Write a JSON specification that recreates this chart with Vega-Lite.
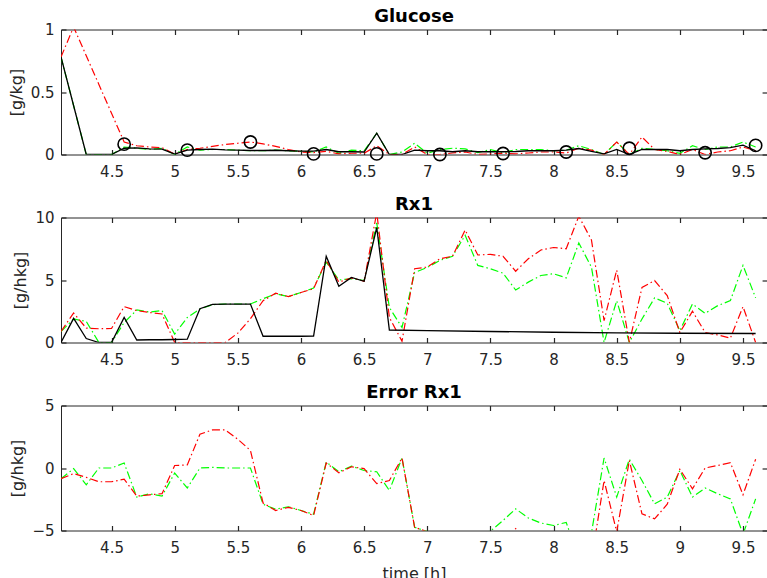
{
  "$schema": "https://vega.github.io/schema/vega-lite/v6.json",
  "padding": {"left": 7, "top": 6.5, "right": 0, "bottom": 0},
  "background": "white",
  "datasets": {
    "glu": [
      {"t":4.1,"k":0.78,"r":0.78,"g":0.78},{"t":4.2,"k":0.39,"r":1.02,"g":0.39},{"t":4.3,"k":0,"r":0.79,"g":0},{"t":4.4,"k":0,"r":0.56,"g":0},{"t":4.5,"k":0,"r":0.33,"g":0},
      {"t":4.6,"k":0.05,"r":0.1,"g":0.06},{"t":4.7,"k":0.053,"r":0.07,"g":0.05},{"t":4.8,"k":0.045,"r":0.06,"g":0.04},{"t":4.9,"k":0.043,"r":0.055,"g":0.05},{"t":5.0,"k":0.003,"r":0.003,"g":0},
      {"t":5.1,"k":0.035,"r":0.04,"g":0.06},{"t":5.2,"k":0.04,"r":0.05,"g":0.035},{"t":5.3,"k":0.043,"r":0.065,"g":0.04},{"t":5.4,"k":0.037,"r":0.08,"g":0.04},{"t":5.5,"k":0.035,"r":0.09,"g":0.035},
      {"t":5.6,"k":0.032,"r":0.1,"g":0.03},{"t":5.7,"k":0.032,"r":0.085,"g":0.03},{"t":5.8,"k":0.034,"r":0.065,"g":0.035},{"t":5.9,"k":0.03,"r":0.04,"g":0.03},{"t":6.0,"k":0.027,"r":0.02,"g":0.025},
      {"t":6.1,"k":0.027,"r":0.015,"g":0.02},{"t":6.2,"k":0.04,"r":0.025,"g":0.06},{"t":6.3,"k":0.022,"r":0.005,"g":0.01},{"t":6.4,"k":0.022,"r":0.01,"g":0.035},{"t":6.5,"k":0.02,"r":0.01,"g":0.03},
      {"t":6.6,"k":0.17,"r":0.07,"g":0.17},{"t":6.7,"k":0,"r":0,"g":0},{"t":6.8,"k":0,"r":0,"g":0.02},{"t":6.9,"k":0.035,"r":0.06,"g":0.09},{"t":7.0,"k":0.03,"r":0,"g":0.01},
      {"t":7.1,"k":0.03,"r":0,"g":0.04},{"t":7.2,"k":0.022,"r":0.012,"g":0.05},{"t":7.3,"k":0.03,"r":0.02,"g":0.045},{"t":7.4,"k":0.022,"r":0,"g":0.015},{"t":7.5,"k":0.022,"r":0.005,"g":0.04},
      {"t":7.6,"k":0.022,"r":0.01,"g":0.015},{"t":7.7,"k":0.024,"r":0.005,"g":0.04},{"t":7.8,"k":0.03,"r":0.012,"g":0.04},{"t":7.9,"k":0.03,"r":0.02,"g":0.04},{"t":8.0,"k":0.03,"r":0.02,"g":0.03},
      {"t":8.1,"k":0.035,"r":0.012,"g":0.035},{"t":8.2,"k":0.048,"r":0.05,"g":0.07},{"t":8.3,"k":0.025,"r":0.035,"g":0.04},{"t":8.4,"k":0.005,"r":0,"g":0},{"t":8.5,"k":0.04,"r":0.1,"g":0.1},
      {"t":8.6,"k":0,"r":0,"g":0},{"t":8.7,"k":0.04,"r":0.14,"g":0.05},{"t":8.8,"k":0.04,"r":0.04,"g":0.04},{"t":8.9,"k":0.04,"r":0.025,"g":0.03},{"t":9.0,"k":0.03,"r":0,"g":0.01},
      {"t":9.1,"k":0.04,"r":0.04,"g":0.07},{"t":9.2,"k":0.045,"r":0,"g":0.04},{"t":9.3,"k":0.048,"r":0.02,"g":0.06},{"t":9.4,"k":0.055,"r":0.03,"g":0.06},{"t":9.5,"k":0.075,"r":0.06,"g":0.1},
      {"t":9.6,"k":0.03,"r":0.03,"g":0.06}
    ],
    "meas": [
      {"t":4.6,"v":0.083},{"t":5.1,"v":0.035},{"t":5.6,"v":0.1},{"t":6.1,"v":0.005},{"t":6.6,"v":0.005},{"t":7.1,"v":0.0},
      {"t":7.6,"v":0.008},{"t":8.1,"v":0.02},{"t":8.6,"v":0.05},{"t":9.2,"v":0.014},{"t":9.6,"v":0.073}
    ],
    "rx": [
      {"t":4.1,"k":0,"r":0.88,"g":0.88},{"t":4.2,"k":1.93,"r":2.36,"g":1.88},{"t":4.3,"k":0.32,"r":1.15,"g":1.69},{"t":4.4,"k":0,"r":1.1,"g":0},{"t":4.5,"k":0,"r":1.12,"g":0},
      {"t":4.6,"k":2.0,"r":2.87,"g":1.6},{"t":4.7,"k":0.2,"r":2.55,"g":2.6},{"t":4.8,"k":0.22,"r":2.4,"g":2.44},{"t":4.9,"k":0.22,"r":2.28,"g":2.55},{"t":5.0,"k":0.24,"r":0,"g":0.67},
      {"t":5.1,"k":0.27,"r":0,"g":2.0},{"t":5.2,"k":2.7,"r":0,"g":2.68},{"t":5.3,"k":3.05,"r":0,"g":3.03},{"t":5.4,"k":3.07,"r":0,"g":3.08},{"t":5.5,"k":3.07,"r":0.75,"g":3.08},
      {"t":5.6,"k":3.07,"r":1.9,"g":3.08},{"t":5.7,"k":0.5,"r":3.35,"g":3.5},{"t":5.8,"k":0.5,"r":3.94,"g":3.9},{"t":5.9,"k":0.5,"r":3.67,"g":3.67},{"t":6.0,"k":0.5,"r":4.0,"g":4.0},
      {"t":6.1,"k":0.52,"r":4.3,"g":4.35},{"t":6.2,"k":6.9,"r":6.57,"g":6.43},{"t":6.3,"k":4.5,"r":4.83,"g":5.0},{"t":6.4,"k":5.2,"r":5.17,"g":5.1},{"t":6.5,"k":4.9,"r":4.9,"g":4.96},
      {"t":6.6,"k":9.2,"r":10.4,"g":9.57},{"t":6.7,"k":1.0,"r":2.0,"g":2.8},{"t":6.8,"k":null,"r":0.1,"g":1.2},{"t":6.9,"k":null,"r":5.9,"g":5.6},{"t":7.0,"k":0.95,"r":6.03,"g":6.0},
      {"t":7.1,"k":null,"r":6.7,"g":6.57},{"t":7.2,"k":null,"r":6.9,"g":6.9},{"t":7.3,"k":null,"r":9.0,"g":8.58},{"t":7.4,"k":null,"r":7.0,"g":6.17},{"t":7.5,"k":0.88,"r":7.05,"g":5.9},
      {"t":7.6,"k":null,"r":6.9,"g":5.55},{"t":7.7,"k":null,"r":5.7,"g":4.2},{"t":7.8,"k":null,"r":6.7,"g":4.83},{"t":7.9,"k":null,"r":7.4,"g":5.36},{"t":8.0,"k":0.82,"r":7.6,"g":5.5},
      {"t":8.1,"k":null,"r":7.5,"g":5.17},{"t":8.2,"k":null,"r":10.1,"g":7.96},{"t":8.3,"k":null,"r":8.2,"g":6.03},{"t":8.4,"k":null,"r":1.75,"g":0},{"t":8.5,"k":0.77,"r":5.8,"g":3.35},
      {"t":8.6,"k":null,"r":0,"g":0},{"t":8.7,"k":null,"r":4.4,"g":1.88},{"t":8.8,"k":null,"r":4.96,"g":3.57},{"t":8.9,"k":null,"r":3.75,"g":3.14},{"t":9.0,"k":0.74,"r":0.8,"g":0.94},
      {"t":9.1,"k":null,"r":2.5,"g":3.08},{"t":9.2,"k":null,"r":0.8,"g":2.33},{"t":9.3,"k":null,"r":0.6,"g":2.95},{"t":9.4,"k":null,"r":0.35,"g":3.35},{"t":9.5,"k":null,"r":2.87,"g":6.17},
      {"t":9.6,"k":0.72,"r":0,"g":3.57}
    ],
    "err": [
      {"t":4.1,"r":-0.86,"g":-0.86},{"t":4.2,"r":-0.45,"g":-0.05},{"t":4.3,"r":-0.75,"g":-1.34},{"t":4.4,"r":-1.1,"g":0},{"t":4.5,"r":-1.1,"g":0},
      {"t":4.6,"r":-0.9,"g":0.4},{"t":4.7,"r":-2.25,"g":-2.33},{"t":4.8,"r":-2.15,"g":-2.06},{"t":4.9,"r":-2.05,"g":-2.25},{"t":5.0,"r":0.2,"g":-0.4},
      {"t":5.1,"r":0.25,"g":-1.6},{"t":5.2,"r":2.7,"g":0},{"t":5.3,"r":3.05,"g":0.05},{"t":5.4,"r":3.05,"g":0},{"t":5.5,"r":2.3,"g":0},
      {"t":5.6,"r":1.4,"g":0},{"t":5.7,"r":-2.8,"g":-2.9},{"t":5.8,"r":-3.4,"g":-3.3},{"t":5.9,"r":-3.15,"g":-3.1},{"t":6.0,"r":-3.4,"g":-3.4},
      {"t":6.1,"r":-3.8,"g":-3.7},{"t":6.2,"r":0.4,"g":0.48},{"t":6.3,"r":-0.38,"g":-0.3},{"t":6.4,"r":0.1,"g":0.15},{"t":6.5,"r":-0.05,"g":-0.2},
      {"t":6.6,"r":-1.25,"g":-0.3},{"t":6.7,"r":-1.0,"g":-1.8},{"t":6.8,"r":0.8,"g":0.8},{"t":6.9,"r":-4.75,"g":-4.75},{"t":7.0,"r":-5.1,"g":-5.07},
      {"t":7.1,"r":-5.8,"g":-5.6},{"t":7.2,"r":-6.0,"g":-6.0},{"t":7.3,"r":-8.1,"g":-7.7},{"t":7.4,"r":-6.1,"g":-5.3},{"t":7.5,"r":-6.2,"g":-5.05},
      {"t":7.6,"r":-6.0,"g":-4.2},{"t":7.7,"r":-4.85,"g":-3.27},{"t":7.8,"r":-5.85,"g":-4.0},{"t":7.9,"r":-6.6,"g":-4.4},{"t":8.0,"r":-6.8,"g":-4.6},
      {"t":8.1,"r":-6.7,"g":-4.35},{"t":8.2,"r":-9.2,"g":-7.2},{"t":8.3,"r":-7.4,"g":-5.2},{"t":8.4,"r":-1.0,"g":0.8},{"t":8.5,"r":-5.1,"g":-2.33},
      {"t":8.6,"r":0.6,"g":0.7},{"t":8.7,"r":-3.67,"g":-1.0},{"t":8.8,"r":-4.07,"g":-2.87},{"t":8.9,"r":-2.9,"g":-2.33},{"t":9.0,"r":-0.1,"g":-0.2},
      {"t":9.1,"r":-1.66,"g":-2.33},{"t":9.2,"r":0,"g":-1.6},{"t":9.3,"r":0.2,"g":-2.06},{"t":9.4,"r":0.43,"g":-2.47},{"t":9.5,"r":-2.14,"g":-5.3},
      {"t":9.6,"r":0.7,"g":-2.47}
    ]
  },
  "vconcat": [
    {
      "title": "Glucose",
      "width": 706, "height": 125,
      "data": {"name": "glu"},
      "resolve": {"axis": {"x": "independent", "y": "independent"}},
      "layer": [
        {
          "mark": {"type": "line", "color": "#00ff00", "strokeWidth": 1.2, "strokeDash": [8,3,1.5,3], "clip": true},
          "encoding": {
            "x": {"field": "t", "type": "quantitative", "scale": {"domain": [4.1, 9.69], "nice": false, "zero": false},
                  "axis": {"orient": "bottom", "values": [4.5,5,5.5,6,6.5,7,7.5,8,8.5,9,9.5], "format": "~r", "title": null}},
            "y": {"field": "g", "type": "quantitative", "scale": {"domain": [0, 1], "nice": false},
                  "axis": {"orient": "left", "values": [0,0.5,1], "format": "~r", "title": "[g/kg]"}}
          }
        },
        {
          "mark": {"type": "line", "color": "#ff0000", "strokeWidth": 1.2, "strokeDash": [8,3,1.5,3], "clip": true},
          "encoding": {
            "x": {"field": "t", "type": "quantitative", "axis": {"orient": "top", "values": [4.5,5,5.5,6,6.5,7,7.5,8,8.5,9,9.5], "labels": false, "title": null}},
            "y": {"field": "r", "type": "quantitative", "axis": {"orient": "right", "values": [0,0.5,1], "labels": false, "title": null}}
          }
        },
        {
          "mark": {"type": "line", "color": "black", "strokeWidth": 1.3, "clip": true},
          "encoding": {"x": {"field": "t", "type": "quantitative", "axis": null}, "y": {"field": "k", "type": "quantitative", "axis": null}}
        },
        {
          "data": {"name": "meas"},
          "mark": {"type": "point", "shape": "circle", "filled": false, "color": "black", "strokeWidth": 1.6, "size": 150, "opacity": 1},
          "encoding": {"x": {"field": "t", "type": "quantitative", "axis": null}, "y": {"field": "v", "type": "quantitative", "axis": null}}
        }
      ]
    },
    {
      "title": "Rx1",
      "width": 706, "height": 125,
      "data": {"name": "rx"},
      "resolve": {"axis": {"x": "independent", "y": "independent"}},
      "layer": [
        {
          "mark": {"type": "line", "color": "#00ff00", "strokeWidth": 1.2, "strokeDash": [8,3,1.5,3], "clip": true},
          "encoding": {
            "x": {"field": "t", "type": "quantitative", "scale": {"domain": [4.1, 9.69], "nice": false, "zero": false},
                  "axis": {"orient": "bottom", "values": [4.5,5,5.5,6,6.5,7,7.5,8,8.5,9,9.5], "format": "~r", "title": null}},
            "y": {"field": "g", "type": "quantitative", "scale": {"domain": [0, 10], "nice": false},
                  "axis": {"orient": "left", "values": [0,5,10], "format": "~r", "title": "[g/hkg]"}}
          }
        },
        {
          "mark": {"type": "line", "color": "#ff0000", "strokeWidth": 1.2, "strokeDash": [8,3,1.5,3], "clip": true},
          "encoding": {
            "x": {"field": "t", "type": "quantitative", "axis": {"orient": "top", "values": [4.5,5,5.5,6,6.5,7,7.5,8,8.5,9,9.5], "labels": false, "title": null}},
            "y": {"field": "r", "type": "quantitative", "axis": {"orient": "right", "values": [0,5,10], "labels": false, "title": null}}
          }
        },
        {
          "transform": [{"filter": "isValid(datum.k)"}],
          "mark": {"type": "line", "color": "black", "strokeWidth": 1.3, "clip": true},
          "encoding": {"x": {"field": "t", "type": "quantitative", "axis": null}, "y": {"field": "k", "type": "quantitative", "axis": null}}
        }
      ]
    },
    {
      "title": "Error Rx1",
      "width": 706, "height": 125,
      "data": {"name": "err"},
      "resolve": {"axis": {"x": "independent", "y": "independent"}},
      "layer": [
        {
          "mark": {"type": "line", "color": "#00ff00", "strokeWidth": 1.2, "strokeDash": [8,3,1.5,3], "clip": true},
          "encoding": {
            "x": {"field": "t", "type": "quantitative", "scale": {"domain": [4.1, 9.69], "nice": false, "zero": false},
                  "axis": {"orient": "bottom", "values": [4.5,5,5.5,6,6.5,7,7.5,8,8.5,9,9.5], "format": "~r", "title": "time [h]", "titlePadding": 10}},
            "y": {"field": "g", "type": "quantitative", "scale": {"domain": [-5, 5], "nice": false},
                  "axis": {"orient": "left", "values": [-5,0,5], "format": "~r", "title": "[g/hkg]"}}
          }
        },
        {
          "mark": {"type": "line", "color": "#ff0000", "strokeWidth": 1.2, "strokeDash": [8,3,1.5,3], "clip": true},
          "encoding": {
            "x": {"field": "t", "type": "quantitative", "axis": {"orient": "top", "values": [4.5,5,5.5,6,6.5,7,7.5,8,8.5,9,9.5], "labels": false, "title": null}},
            "y": {"field": "r", "type": "quantitative", "axis": {"orient": "right", "values": [-5,0,5], "labels": false, "title": null}}
          }
        }
      ]
    }
  ],
  "spacing": 63,
  "bounds": "flush",
  "config": {
    "font": "DejaVu Sans",
    "view": {"stroke": "#262626", "strokeWidth": 1},
    "axis": {
      "domain": false, "grid": false,
      "tickSize": -5, "tickColor": "#262626", "tickWidth": 1.2,
      "labelFont": "DejaVu Sans", "labelFontSize": 15, "labelColor": "#262626", "labelPadding": 15,
      "labelFlush": false, "labelOverlap": false, "labelBound": false,
      "titleFont": "DejaVu Sans", "titleFontSize": 16, "titleFontWeight": "normal", "titleColor": "#262626", "titlePadding": 6
    },
    "axisY": {"labelPadding": 12},
    "title": {"font": "DejaVu Sans", "fontSize": 18, "fontWeight": "bold", "color": "black", "offset": -3, "anchor": "middle"}
  }
}
